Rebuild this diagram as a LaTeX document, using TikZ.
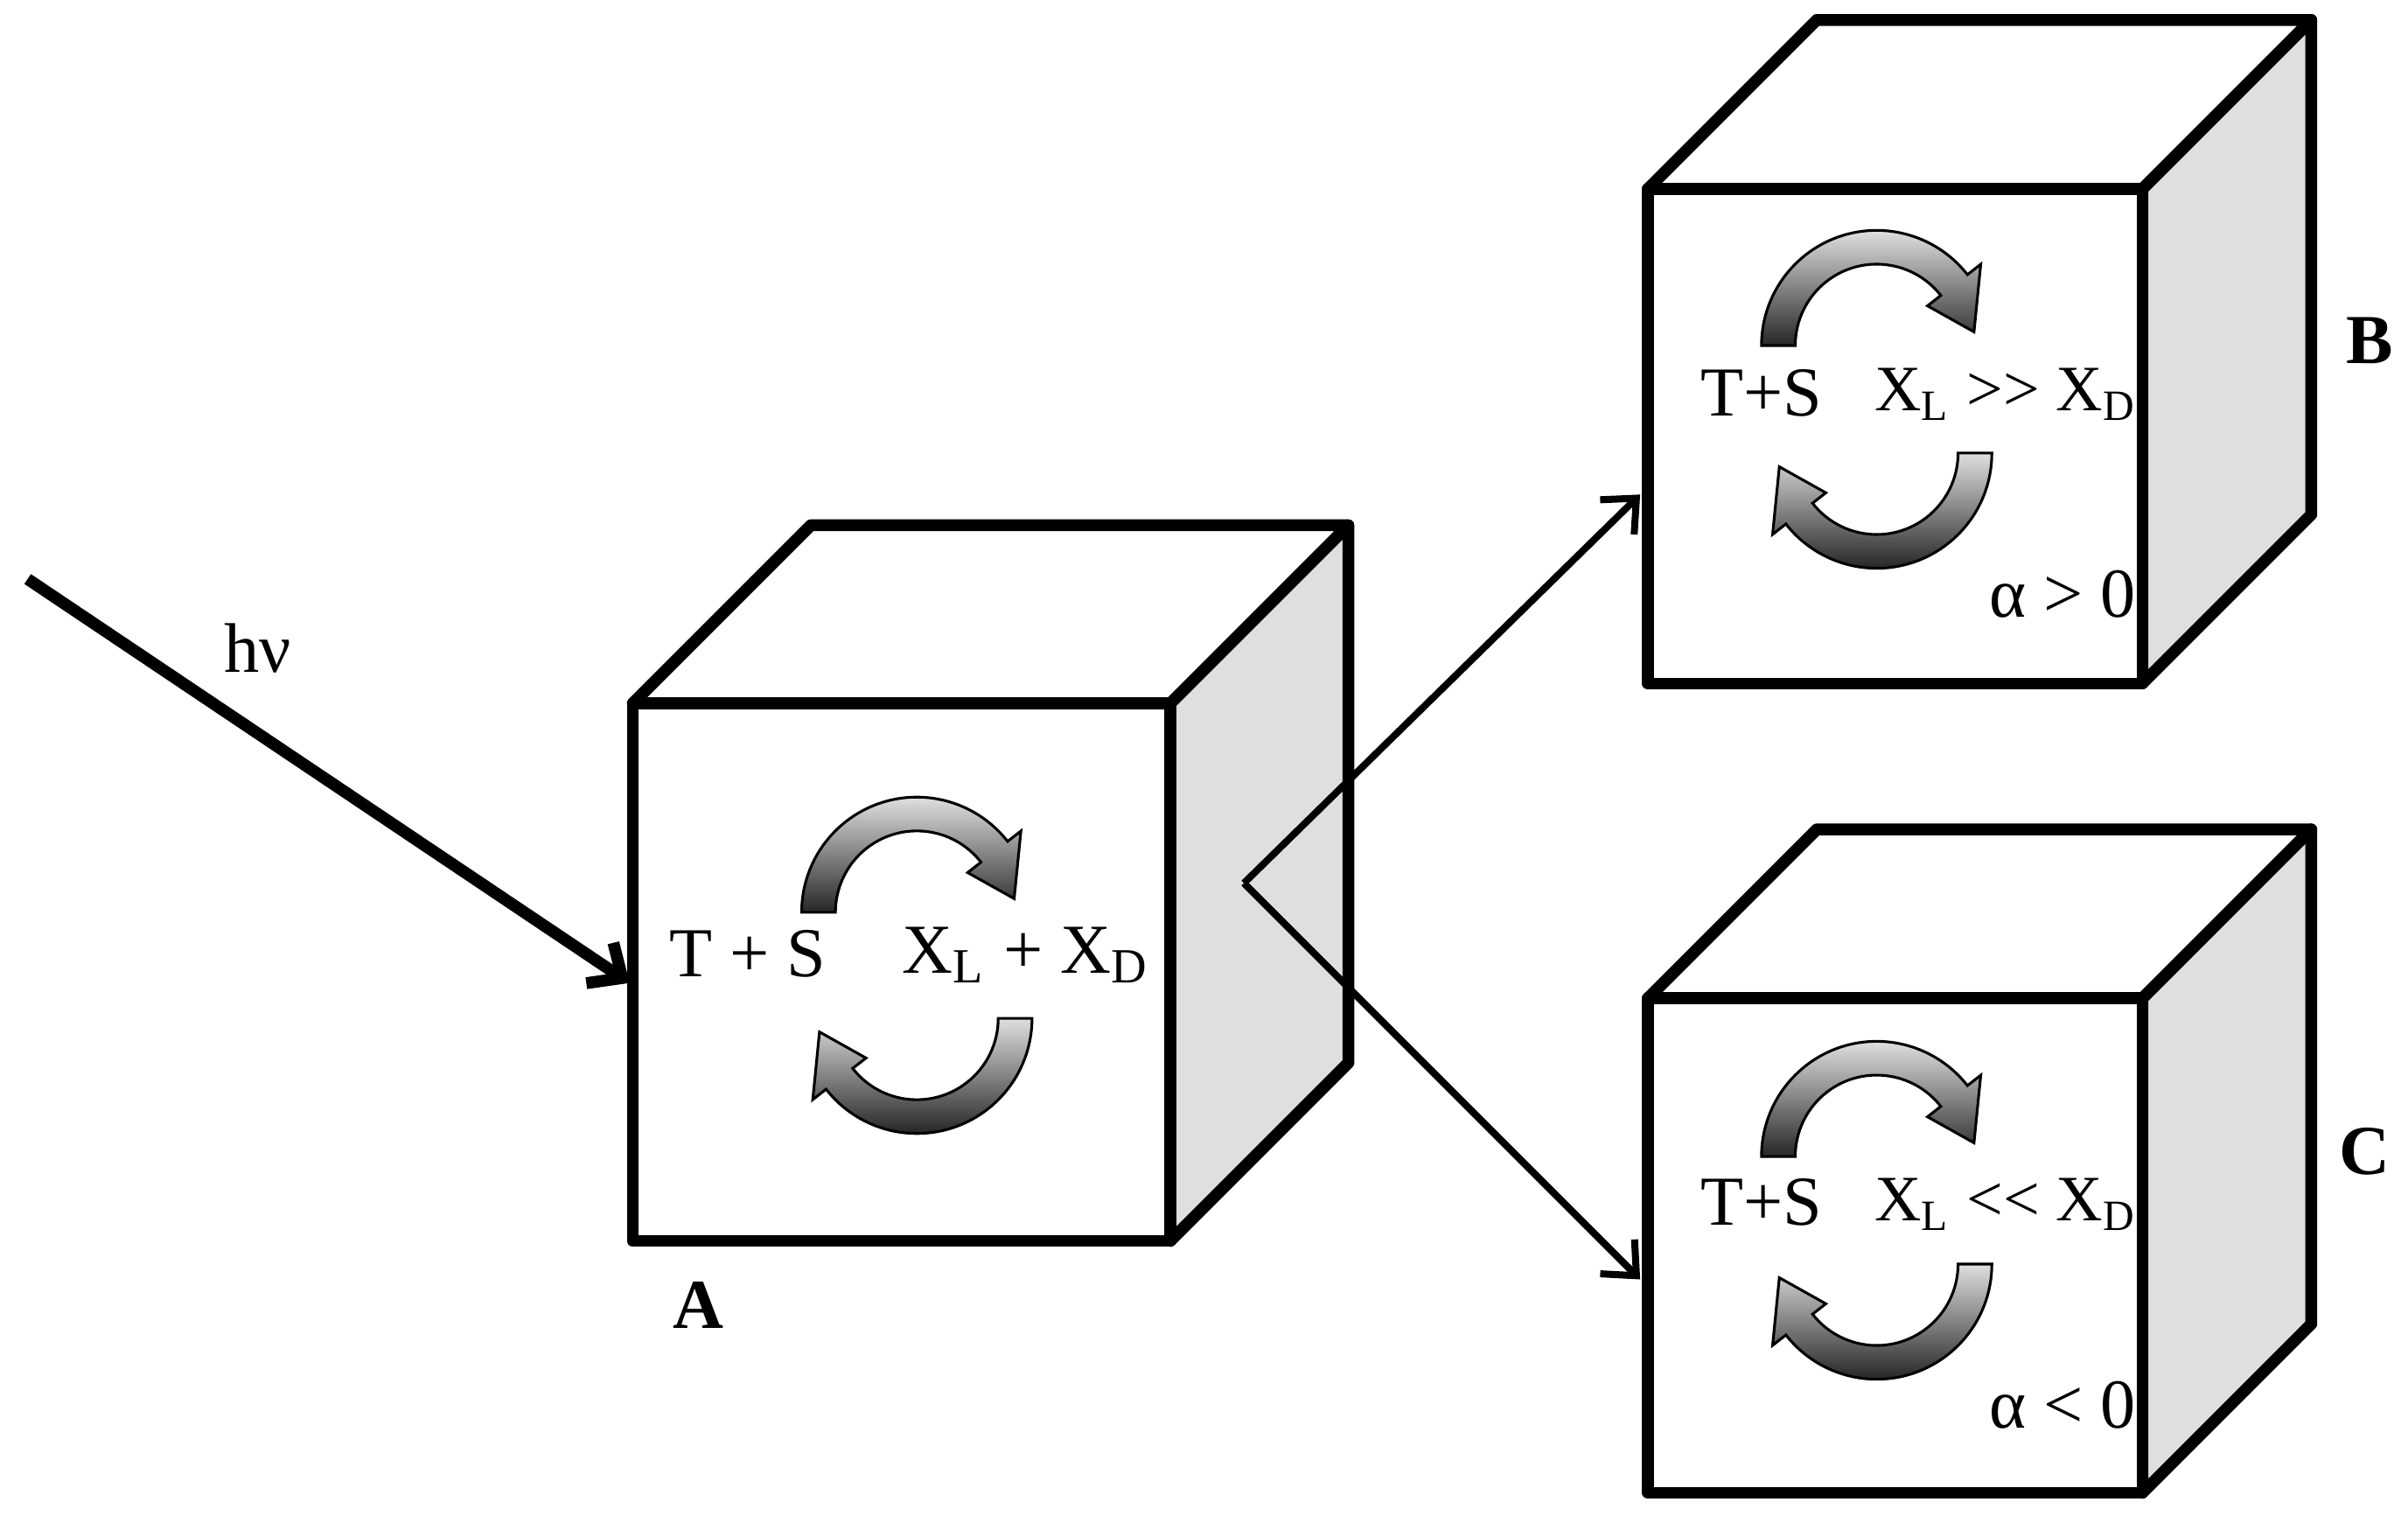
\documentclass[tikz,border=0pt]{standalone}
\usepackage{fontspec}
\setmainfont{Liberation Serif}
\usetikzlibrary{calc,arrows.meta}
\tikzset{
  face/.style={line width=2.2pt,line join=round,fill=white},
  side/.style={line width=2.2pt,line join=round,fill=gray!25},
  lbl/.style={font=\fontsize{13}{15}\selectfont},
  cyc/.style={draw=black,line width=0.5pt,top color=gray!25,bottom color=black!85}
}
% one curved arrow, turning clockwise from the left
\newcommand\halfturn{%
  (180:0.75) arc[start angle=180,end angle=38,radius=0.75] -- (38:0.86)
  -- (8:0.64) -- (38:0.42) -- (38:0.53)
  arc[start angle=38,end angle=180,radius=0.53] -- cycle}
% a box: front lower left corner x, size, y, depth
\newcommand\cube[4]{%
  \draw[side] (#1+#2,#3) -- ++(#4,#4) -- ++(0,#2) -- ++(-#4,-#4) -- cycle;
  \draw[face] (#1,#3+#2) -- ++(#4,#4) -- ++(#2,0) -- ++(-#4,-#4) -- cycle;
  \draw[face] (#1,#3) rectangle ++(#2,#2);}
\newcommand\turns[3]{%
  \begin{scope}[shift={(#1,#2)}]\fill[cyc] \halfturn;\end{scope}
  \begin{scope}[shift={(#1,#3)},rotate=180]\fill[cyc] \halfturn;\end{scope}}
\begin{document}
\begin{tikzpicture}
  \useasboundingbox (0,0) rectangle (15.68,9.87);
  % boxes
  \cube{4.12}{3.50}{1.79}{1.16}
  \cube{10.73}{3.22}{5.42}{1.10}
  \cube{10.73}{3.22}{0.15}{1.10}
  % reactions
  \turns{5.97}{3.93}{3.24}
  \turns{12.22}{7.62}{6.92}
  \turns{12.22}{2.34}{1.64}
  \node[lbl] (tsA) at (4.87,3.66) {T + S};
  \node[lbl] (xA) at (6.68,3.65) {X\textsubscript{L} + X\textsubscript{D}};
  \node[lbl] (tsB) at (11.47,7.31) {T+S};
  \node[lbl,font=\fontsize{12}{14}\selectfont] (xB) at (13.06,7.30) {X\textsubscript{L} >{}> X\textsubscript{D}};
  \node[lbl] (aB) at (13.43,6.00) {α > 0};
  \node[lbl] (tsC) at (11.47,2.04) {T+S};
  \node[lbl,font=\fontsize{12}{14}\selectfont] (xC) at (13.06,2.03) {X\textsubscript{L} <{}< X\textsubscript{D}};
  \node[lbl] (aC) at (13.43,0.72) {α < 0};
  \node[lbl,font=\fontsize{13}{15}\selectfont\bfseries] (nA) at (4.55,1.37) {A};
  \node[lbl,font=\fontsize{13}{15}\selectfont\bfseries] (nB) at (15.43,7.65) {B};
  \node[lbl,font=\fontsize{13}{15}\selectfont\bfseries] (nC) at (15.40,2.37) {C};
  % light in, paths out
  \coordinate (src) at (0.18,6.10);
  \coordinate (hit) at (4.10,3.47);
  \coordinate (fork) at (8.10,4.12);
  \coordinate (toB) at (10.68,6.65);
  \coordinate (toC) at (10.68,1.54);
  \node[lbl] (hv) at (1.68,5.65) {hν};
  \draw[line width=2.2pt,-{Straight Barb[length=5pt,width=9pt]}] (src) -- (hit);
  \draw[line width=1.3pt,-{Straight Barb[length=5pt,width=9pt]}] (fork) -- (toB);
  \draw[line width=1.3pt,-{Straight Barb[length=5pt,width=9pt]}] (fork) -- (toC);
\end{tikzpicture}
\end{document}
